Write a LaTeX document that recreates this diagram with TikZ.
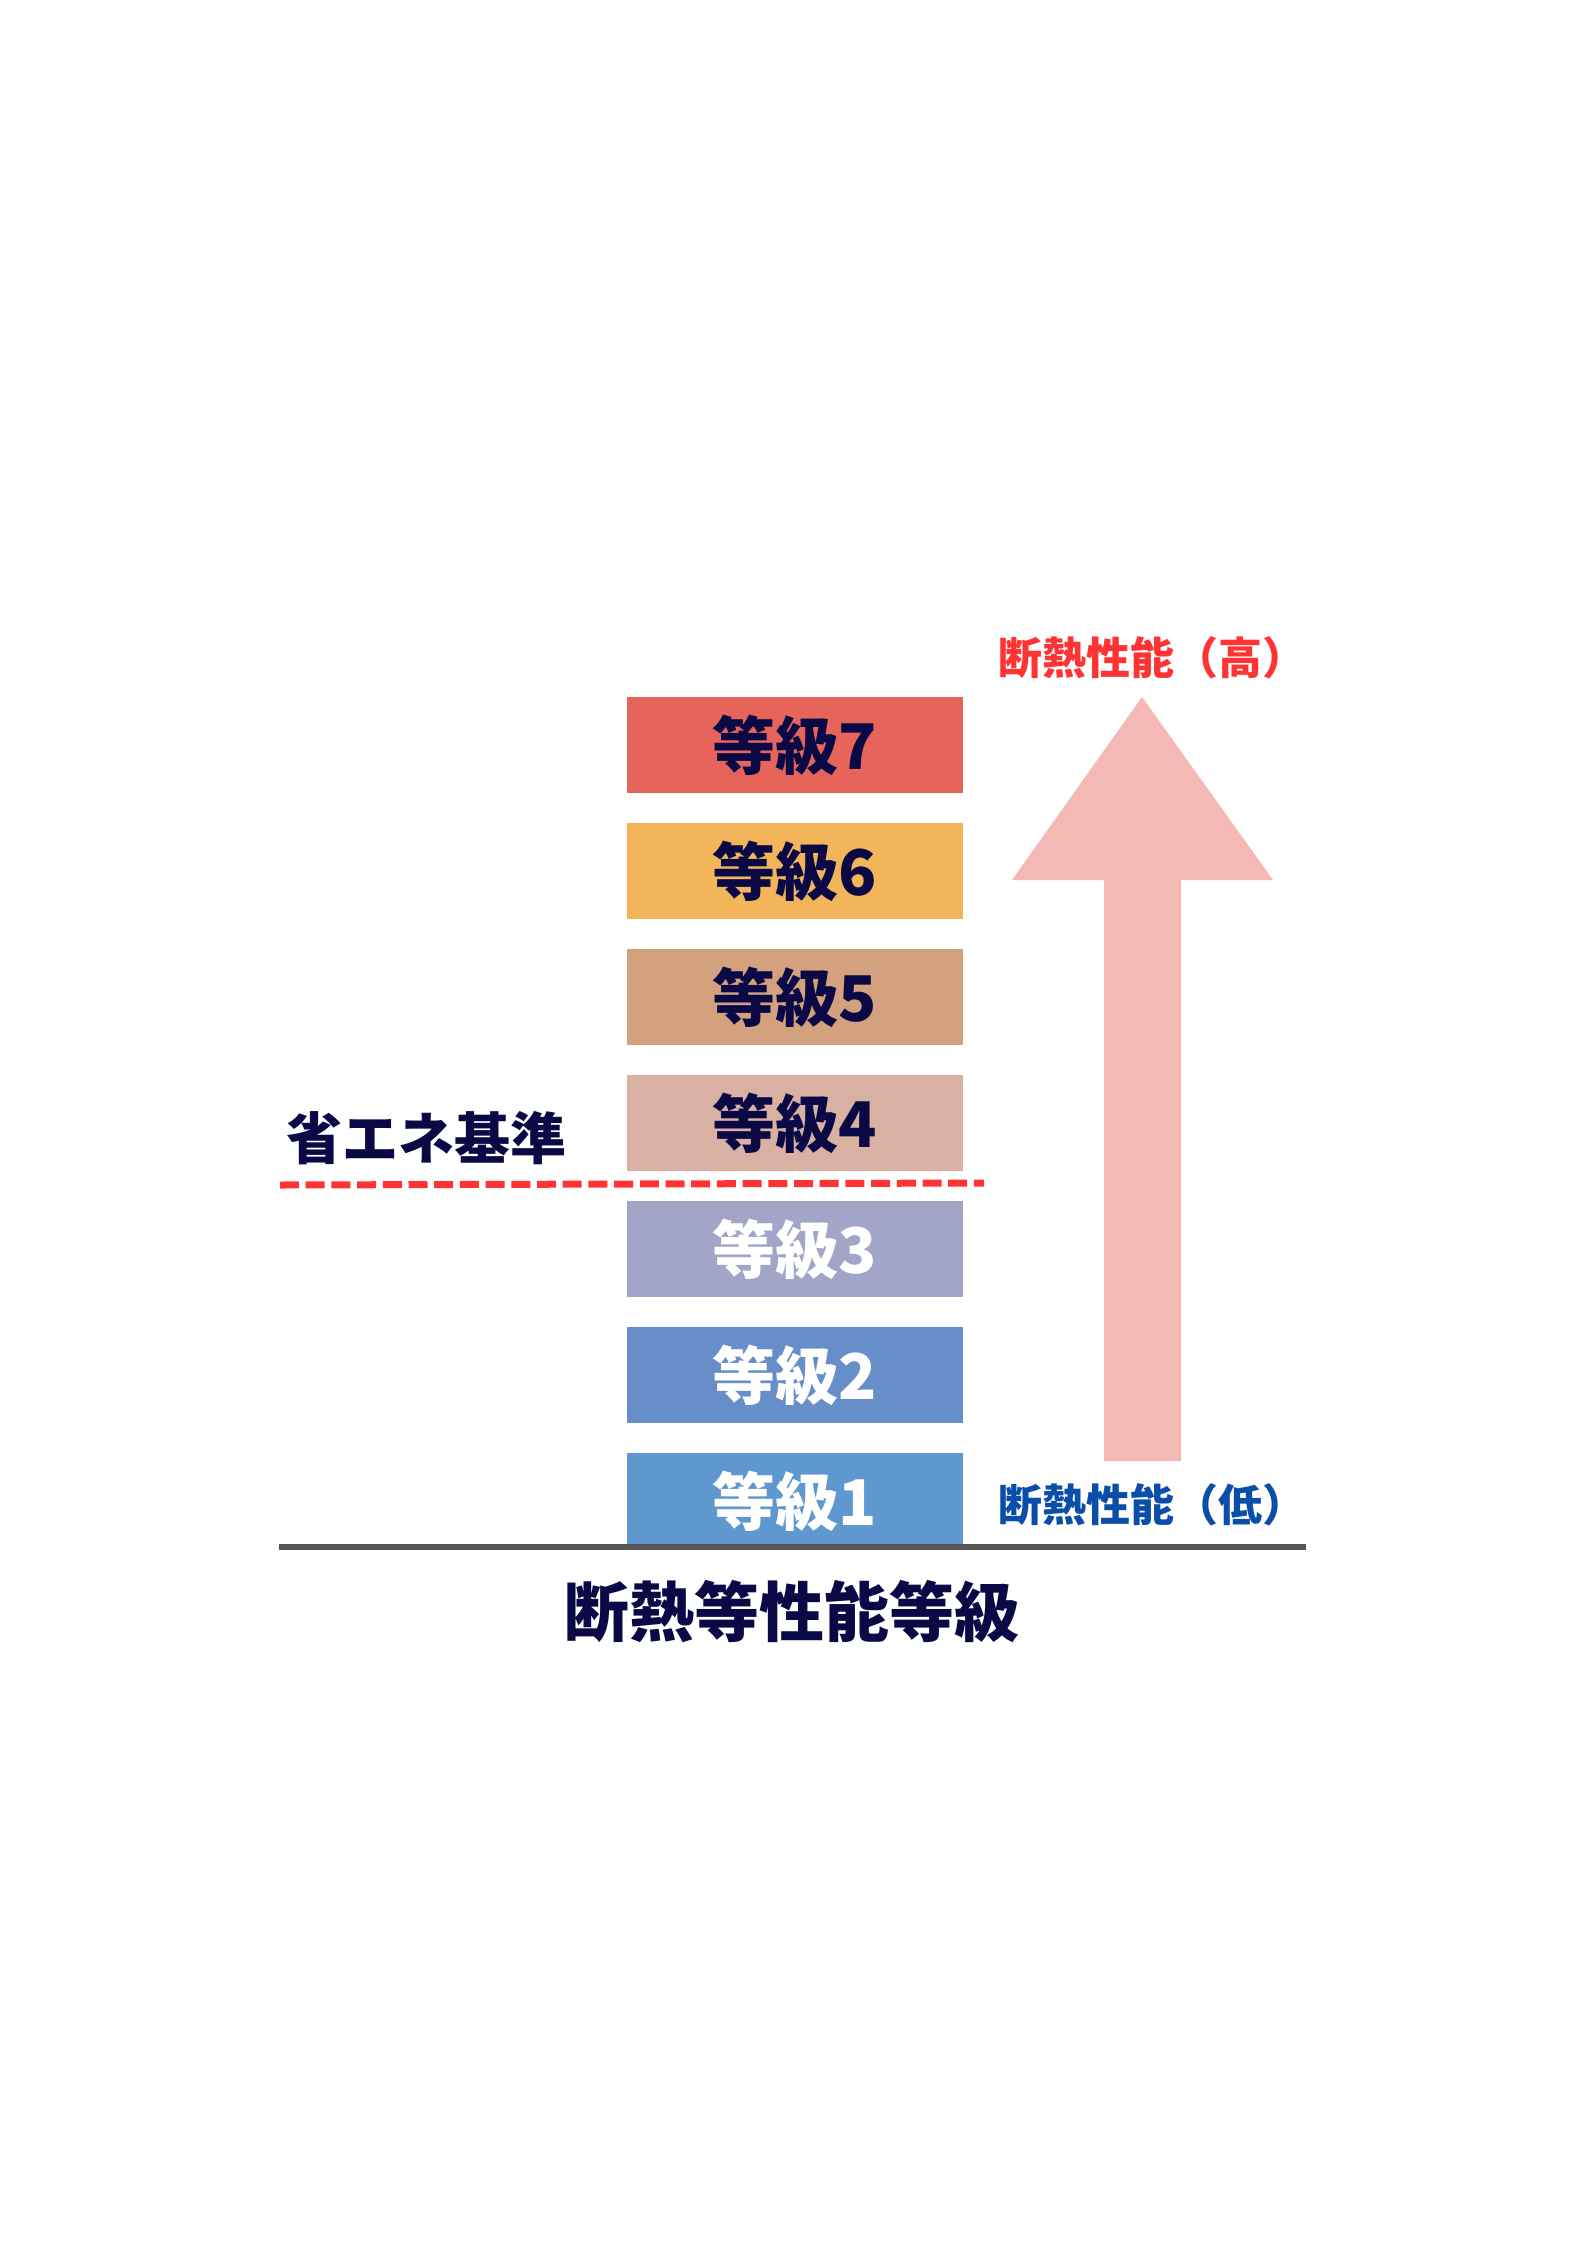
\documentclass[tikz,border=0pt]{standalone}
\usepackage{fontspec}
\newfontfamily\cjk{Noto Sans CJK JP}
\definecolor{navy}{HTML}{0A0845}
\definecolor{redtxt}{HTML}{FF3333}
\definecolor{bluetxt}{HTML}{0B4EA9}
\definecolor{arrowpink}{HTML}{F4B9B5}
\definecolor{basegray}{HTML}{555555}
\definecolor{c7}{HTML}{E6645A}
\definecolor{c6}{HTML}{F2B55A}
\definecolor{c5}{HTML}{D4A17F}
\definecolor{c4}{HTML}{D9B1A3}
\definecolor{c3}{HTML}{A3A5C8}
\definecolor{c2}{HTML}{678EC8}
\definecolor{c1}{HTML}{5F97CF}
\tikzset{
  gradebox/.style={rectangle, inner sep=0pt, minimum width=336pt, minimum height=96pt,
    font=\cjk\bfseries\fontsize{63}{63}\selectfont},
  darktext/.style={text=navy},
  lighttext/.style={text=white},
  lbl/.style={inner sep=0pt},
}
\begin{document}
\begin{tikzpicture}[x=1pt,y=-1pt]
\useasboundingbox (0,0) rectangle (1587,2245);
\fill[white] (0,0) rectangle (1587,2245);
% arrow
\fill[arrowpink] (1104,1461) -- (1104,880) -- (1012,880) -- (1142,697) -- (1273,880) -- (1181,880) -- (1181,1461) -- cycle;
% grade boxes
\node[gradebox, fill=c7, darktext] (g7) at (795,745) {等級7};
\node[gradebox, fill=c6, darktext] (g6) at (795,871) {等級6};
\node[gradebox, fill=c5, darktext] (g5) at (795,997) {等級5};
\node[gradebox, fill=c4, darktext] (g4) at (795,1123) {等級4};
\node[gradebox, fill=c3, lighttext] (g3) at (795,1249) {等級3};
\node[gradebox, fill=c2, lighttext] (g2) at (795,1375) {等級2};
\node[gradebox, fill=c1, lighttext] (g1) at (795,1501) {等級1};
% baseline
\coordinate (bl) at (279,1547);
\coordinate (br) at (1306,1547);
\draw[basegray, line width=6pt] (bl) -- (br);
% dashed energy standard line
\coordinate (dl) at (280,1185);
\coordinate (dr) at (984,1183);
\draw[redtxt, line width=7pt, dash pattern=on 19pt off 6.7pt] (dl) -- (dr);
% labels
\node[lbl, text=navy, font=\cjk\bfseries\fontsize{56}{56}\selectfont] (kijun) at (426,1138) {省エネ基準};
\node[lbl, text=navy, font=\cjk\bfseries\fontsize{65}{65}\selectfont] (title) at (792,1612) {断熱等性能等級};
\node[lbl, anchor=west, text=redtxt, font=\cjk\bfseries\fontsize{44}{44}\selectfont] (high) at (998,658) {断熱性能（高）};
\node[lbl, anchor=west, text=bluetxt, font=\cjk\bfseries\fontsize{44}{44}\selectfont] (low) at (998,1505) {断熱性能（低）};
\end{tikzpicture}
\end{document}
